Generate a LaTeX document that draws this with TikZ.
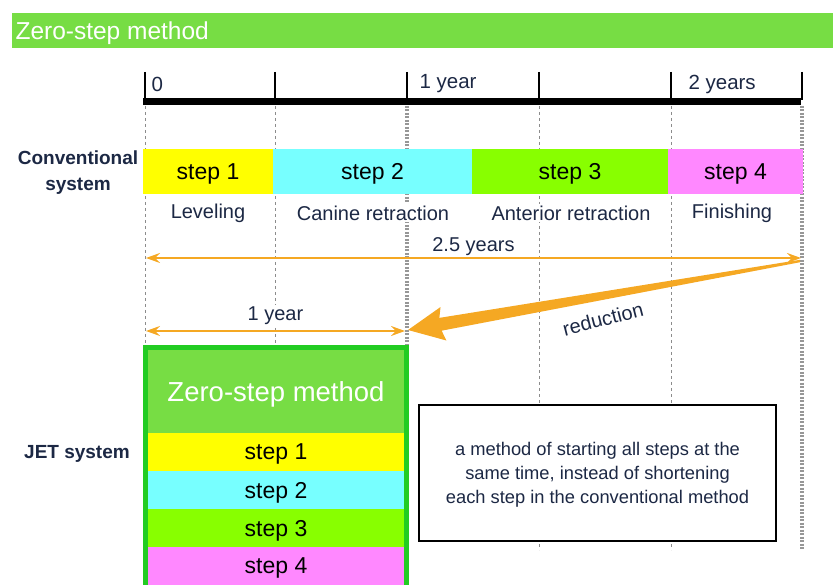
\documentclass[tikz,border=0pt]{standalone}
\usepackage{fontspec}
\setmainfont{Liberation Sans}
\usetikzlibrary{arrows.meta}
\definecolor{headgreen}{RGB}{119,221,68}
\definecolor{boxgreen}{RGB}{34,204,34}
\definecolor{stepyellow}{RGB}{255,255,0}
\definecolor{stepcyan}{RGB}{119,255,255}
\definecolor{stepgreen}{RGB}{136,255,0}
\definecolor{steppink}{RGB}{255,136,255}
\definecolor{spanorange}{RGB}{245,168,35}
\definecolor{navy}{RGB}{28,40,68}
\definecolor{guide}{RGB}{140,140,140}
\begin{document}
\begin{tikzpicture}[x=1pt,y=-1pt]
	\tikzstyle{stepbox}=[inner sep=0pt, minimum height=45pt, text depth=0pt, text=black, font=\fontsize{23}{26}\selectfont]
	\tikzstyle{jetband}=[inner sep=0pt, minimum width=256pt, minimum height=38pt, text depth=0pt, text=black, font=\fontsize{23}{26}\selectfont]
	\tikzstyle{phase}=[fill=white, inner sep=2pt, text=navy, font=\fontsize{20}{24}\selectfont]
	\tikzstyle{ticklabel}=[anchor=west, text=navy, font=\fontsize{20.5}{24}\selectfont]
	\tikzstyle{system}=[align=center, text=navy, font=\bfseries\fontsize{19}{26}\selectfont]
	\tikzstyle{thinguide}=[guide, line width=1pt, dash pattern=on 3pt off 3pt]
	\tikzstyle{thickguide}=[guide!90, line width=4pt, dash pattern=on 2pt off 1.5pt]
	\tikzstyle{span}=[spanorange, line width=2pt, {Stealth[length=14pt,width=10pt,inset=5pt]}-{Stealth[length=14pt,width=10pt,inset=5pt]}]
	\clip (0,0) rectangle (833,585);
	% header
	\fill[headgreen] (12,13) rectangle (833,48);
	\node[anchor=west, text=white, font=\fontsize{24.5}{28}\selectfont] (title) at (12,33) {Zero-step method};
	% guides
	\draw[thinguide] (145,106) -- (145,345);
	\draw[thinguide] (275,106) -- (275,345);
	\draw[thickguide] (407,106) -- (407,345);
	\draw[thinguide] (539,106) -- (539,550);
	\draw[thinguide] (671,106) -- (671,550);
	\draw[thickguide] (802,106) -- (802,550);
	% time axis
	\draw[line width=1.5pt] (145,72) -- (145,100) (275,72) -- (275,100) (407,72) -- (407,100)
		(539,72) -- (539,100) (671,72) -- (671,100) (802,72) -- (802,100);
	\draw[line width=7pt] (143,102) -- (801,102);
	\node[ticklabel] (t0) at (148,84) {0};
	\node[ticklabel] (t1) at (416,84) {1 year};
	\node[ticklabel] (t2) at (685,84) {2 years};
	% conventional system
	\node[system] (conv) at (78,173) {Conventional\\system};
	\node[stepbox, fill=stepyellow, minimum width=130pt] (c1) at (208,171.5) {step 1};
	\node[stepbox, fill=stepcyan, minimum width=199pt] (c2) at (372.5,171.5) {step 2};
	\node[stepbox, fill=stepgreen, minimum width=196pt] (c3) at (570,171.5) {step 3};
	\node[stepbox, fill=steppink, minimum width=135pt] (c4) at (735.5,171.5) {step 4};
	\node[phase] (p1) at (208,213) {Leveling};
	\node[phase] (p2) at (373,213) {Canine retraction};
	\node[phase] (p3) at (571,213) {Anterior retraction};
	\node[phase] (p4) at (732,213) {Finishing};
	% durations
	\coordinate (long0) at (146,258);
	\coordinate (long1) at (801,258);
	\coordinate (short0) at (146,331);
	\coordinate (short1) at (405,331);
	\draw[span] (long0) -- node[phase, above=-1pt, fill=none] (longlabel) {2.5 years} (long1);
	\draw[span] (short0) -- node[phase, above=3pt] (shortlabel) {1 year} (short1);
	% reduction
	\coordinate (redtail) at (800,261);
	\coordinate (redtip) at (408,330);
	\begin{scope}[shift={(redtip)}, rotate=9.98, x=1pt, y=1pt]
		\fill[spanorange] (0,0) -- (36,17) -- (33,6.5) -- (398,1.2) -- (398,-1.2) -- (33,-6.5) -- (36,-17) -- cycle;
	\end{scope}
	\node[text=navy, rotate=14.5, inner sep=0pt, font=\fontsize{20}{22}\selectfont] (red) at (603,319) {reduction};
	% JET system
	\node[system] (jet) at (77,454) {JET system};
	\node[jetband, fill=headgreen, minimum height=83pt, text=white, font=\fontsize{27.5}{30}\selectfont] (jtitle) at (276,391.5) {Zero-step method};
	\node[jetband, fill=stepyellow] (j1) at (276,452) {step 1};
	\node[jetband, fill=stepcyan] (j2) at (276,490) {step 2};
	\node[jetband, fill=stepgreen] (j3) at (276,528) {step 3};
	\node[jetband, fill=steppink] (j4) at (276,566) {step 4};
	\draw[boxgreen, line width=5pt] (145.5,347.5) rectangle (406.5,600);
	% note
	\node[draw, fill=white, line width=2pt, minimum width=357pt, minimum height=136pt, align=center, text=navy, font=\fontsize{18.3}{24}\selectfont] (note) at (597.5,473)
		{\strut a method of starting all steps at the\\same time, instead of shortening\\each step in the conventional method};
\end{tikzpicture}
\end{document}
